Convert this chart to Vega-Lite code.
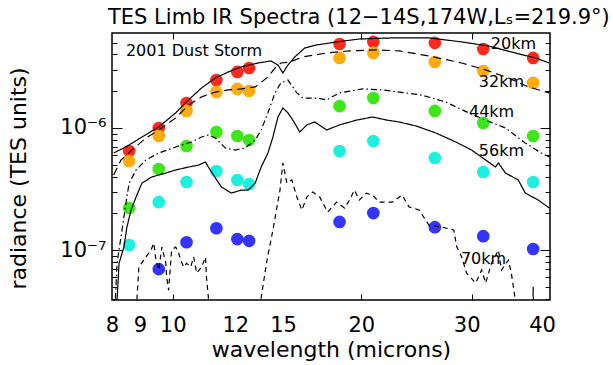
{
  "$schema": "https://vega.github.io/schema/vega-lite/v6.json",
  "width": 438,
  "height": 267,
  "autosize": {"type": "none"},
  "padding": {"left": 112, "top": 33, "right": 63, "bottom": 65},
  "background": "white",
  "config": {
    "view": {"stroke": "black", "strokeWidth": 1.5},
    "font": "DejaVu Sans",
    "axis": {"grid": false, "domain": false, "labelColor": "black", "titleColor": "black", "tickColor": "black", "labelFont": "DejaVu Sans", "titleFont": "DejaVu Sans", "titleFontWeight": "normal", "labelFlush": false, "labelOverlap": false}
  },
  "title": {
    "text": "TES Limb IR Spectra (12−14S,174W,Lₛ=219.9°)",
    "anchor": "start",
    "frame": "group",
    "dx": -4,
    "dy": 21,
    "offset": 8,
    "baseline": "alphabetic",
    "fontSize": 21,
    "fontWeight": "normal",
    "font": "DejaVu Sans",
    "color": "black"
  },
  "datasets": {
    "dots": [
      {"a": "20km", "x": 8.52, "y": 6.48e-7}, {"a": "20km", "x": 9.50, "y": 1.0e-6}, {"a": "20km", "x": 10.52, "y": 1.60e-6}, {"a": "20km", "x": 11.74, "y": 2.47e-6}, {"a": "20km", "x": 12.68, "y": 2.88e-6}, {"a": "20km", "x": 13.24, "y": 3.10e-6}, {"a": "20km", "x": 18.46, "y": 4.88e-6}, {"a": "20km", "x": 20.90, "y": 5.07e-6}, {"a": "20km", "x": 26.2, "y": 4.98e-6}, {"a": "20km", "x": 31.3, "y": 4.44e-6}, {"a": "20km", "x": 37.6, "y": 3.75e-6},
      {"a": "32km", "x": 8.52, "y": 5.37e-7}, {"a": "32km", "x": 9.50, "y": 8.60e-7}, {"a": "32km", "x": 10.52, "y": 1.38e-6}, {"a": "32km", "x": 11.74, "y": 1.97e-6}, {"a": "32km", "x": 12.68, "y": 2.09e-6}, {"a": "32km", "x": 13.24, "y": 2.01e-6}, {"a": "32km", "x": 18.46, "y": 3.75e-6}, {"a": "32km", "x": 20.90, "y": 4.12e-6}, {"a": "32km", "x": 26.2, "y": 3.47e-6}, {"a": "32km", "x": 31.3, "y": 2.93e-6}, {"a": "32km", "x": 37.6, "y": 2.34e-6},
      {"a": "44km", "x": 8.52, "y": 2.21e-7}, {"a": "44km", "x": 9.50, "y": 4.61e-7}, {"a": "44km", "x": 10.52, "y": 7.12e-7}, {"a": "44km", "x": 11.74, "y": 9.27e-7}, {"a": "44km", "x": 12.68, "y": 8.60e-7}, {"a": "44km", "x": 13.24, "y": 7.97e-7}, {"a": "44km", "x": 18.46, "y": 1.51e-6}, {"a": "44km", "x": 20.90, "y": 1.76e-6}, {"a": "44km", "x": 26.2, "y": 1.38e-6}, {"a": "44km", "x": 31.3, "y": 1.10e-6}, {"a": "44km", "x": 37.6, "y": 8.60e-7},
      {"a": "56km", "x": 8.52, "y": 1.10e-7}, {"a": "56km", "x": 9.50, "y": 2.47e-7}, {"a": "56km", "x": 10.52, "y": 3.61e-7}, {"a": "56km", "x": 11.74, "y": 4.44e-7}, {"a": "56km", "x": 12.68, "y": 3.75e-7}, {"a": "56km", "x": 13.24, "y": 3.48e-7}, {"a": "56km", "x": 18.46, "y": 6.48e-7}, {"a": "56km", "x": 20.90, "y": 7.82e-7}, {"a": "56km", "x": 26.2, "y": 5.68e-7}, {"a": "56km", "x": 31.3, "y": 4.36e-7}, {"a": "56km", "x": 37.6, "y": 3.61e-7},
      {"a": "70km", "x": 9.50, "y": 6.98e-8}, {"a": "70km", "x": 10.52, "y": 1.16e-7}, {"a": "70km", "x": 11.74, "y": 1.51e-7}, {"a": "70km", "x": 12.68, "y": 1.23e-7}, {"a": "70km", "x": 13.24, "y": 1.19e-7}, {"a": "70km", "x": 18.46, "y": 1.70e-7}, {"a": "70km", "x": 20.90, "y": 2.01e-7}, {"a": "70km", "x": 26.2, "y": 1.54e-7}, {"a": "70km", "x": 31.3, "y": 1.30e-7}, {"a": "70km", "x": 37.6, "y": 1.02e-7}
    ],
    "lines": [
      {"a": "20km", "x": 8.05, "y": 6.25e-7}, {"a": "20km", "x": 8.42, "y": 7.0e-7}, {"a": "20km", "x": 8.93, "y": 8.43e-7}, {"a": "20km", "x": 9.50, "y": 1.02e-6}, {"a": "20km", "x": 10.11, "y": 1.33e-6}, {"a": "20km", "x": 10.60, "y": 1.70e-6}, {"a": "20km", "x": 11.12, "y": 2.13e-6}, {"a": "20km", "x": 11.70, "y": 2.57e-6}, {"a": "20km", "x": 12.27, "y": 2.88e-6}, {"a": "20km", "x": 12.86, "y": 3.16e-6}, {"a": "20km", "x": 13.69, "y": 3.41e-6}, {"a": "20km", "x": 14.35, "y": 3.54e-6}, {"a": "20km", "x": 14.72, "y": 3.28e-6}, {"a": "20km", "x": 14.99, "y": 2.82e-6}, {"a": "20km", "x": 15.27, "y": 3.28e-6}, {"a": "20km", "x": 15.66, "y": 3.82e-6}, {"a": "20km", "x": 16.25, "y": 4.53e-6}, {"a": "20km", "x": 16.98, "y": 4.79e-6}, {"a": "20km", "x": 18.26, "y": 5.07e-6}, {"a": "20km", "x": 19.86, "y": 5.36e-6}, {"a": "20km", "x": 22.4, "y": 5.47e-6}, {"a": "20km", "x": 25.64, "y": 5.47e-6}, {"a": "20km", "x": 28.92, "y": 5.07e-6}, {"a": "20km", "x": 31.91, "y": 4.70e-6}, {"a": "20km", "x": 35.22, "y": 4.12e-6}, {"a": "20km", "x": 37.87, "y": 3.75e-6}, {"a": "20km", "x": 39.9, "y": 3.41e-6},
      {"a": "32km", "x": 8.05, "y": 4.12e-7}, {"a": "32km", "x": 8.27, "y": 5.47e-7}, {"a": "32km", "x": 8.61, "y": 6.60e-7}, {"a": "32km", "x": 9.06, "y": 8.28e-7}, {"a": "32km", "x": 9.50, "y": 9.63e-7}, {"a": "32km", "x": 10.11, "y": 1.21e-6}, {"a": "32km", "x": 10.60, "y": 1.54e-6}, {"a": "32km", "x": 11.12, "y": 1.80e-6}, {"a": "32km", "x": 11.70, "y": 1.97e-6}, {"a": "32km", "x": 12.27, "y": 2.05e-6}, {"a": "32km", "x": 12.86, "y": 2.09e-6}, {"a": "32km", "x": 13.54, "y": 2.17e-6}, {"a": "32km", "x": 14.19, "y": 2.62e-6}, {"a": "32km", "x": 14.56, "y": 3.10e-6}, {"a": "32km", "x": 14.88, "y": 3.41e-6}, {"a": "32km", "x": 15.38, "y": 3.47e-6}, {"a": "32km", "x": 16.13, "y": 3.82e-6}, {"a": "32km", "x": 17.61, "y": 4.12e-6}, {"a": "32km", "x": 19.15, "y": 4.28e-6}, {"a": "32km", "x": 21.13, "y": 4.36e-6}, {"a": "32km", "x": 22.98, "y": 4.28e-6}, {"a": "32km", "x": 25.64, "y": 3.89e-6}, {"a": "32km", "x": 28.92, "y": 3.41e-6}, {"a": "32km", "x": 31.57, "y": 2.99e-6}, {"a": "32km", "x": 34.33, "y": 2.57e-6}, {"a": "32km", "x": 36.93, "y": 2.17e-6}, {"a": "32km", "x": 39.9, "y": 1.94e-6},
      {"a": "44km", "x": 8.10, "y": 4.0e-8}, {"a": "44km", "x": 8.15, "y": 7.82e-8}, {"a": "44km", "x": 8.30, "y": 1.46e-7}, {"a": "44km", "x": 8.45, "y": 2.72e-7}, {"a": "44km", "x": 8.52, "y": 3.54e-7}, {"a": "44km", "x": 8.74, "y": 4.53e-7}, {"a": "44km", "x": 9.06, "y": 5.47e-7}, {"a": "44km", "x": 9.50, "y": 6.24e-7}, {"a": "44km", "x": 10.11, "y": 6.99e-7}, {"a": "44km", "x": 10.72, "y": 7.68e-7}, {"a": "44km", "x": 11.12, "y": 8.44e-7}, {"a": "44km", "x": 11.40, "y": 8.76e-7}, {"a": "44km", "x": 11.70, "y": 8.28e-7}, {"a": "44km", "x": 12.13, "y": 6.86e-7}, {"a": "44km", "x": 12.58, "y": 6.60e-7}, {"a": "44km", "x": 13.05, "y": 6.86e-7}, {"a": "44km", "x": 13.54, "y": 7.97e-7}, {"a": "44km", "x": 13.84, "y": 9.63e-7}, {"a": "44km", "x": 14.19, "y": 1.33e-6}, {"a": "44km", "x": 14.56, "y": 1.94e-6}, {"a": "44km", "x": 14.88, "y": 2.34e-6}, {"a": "44km", "x": 15.27, "y": 2.47e-6}, {"a": "44km", "x": 15.78, "y": 1.94e-6}, {"a": "44km", "x": 16.13, "y": 1.76e-6}, {"a": "44km", "x": 16.98, "y": 1.76e-6}, {"a": "44km", "x": 17.61, "y": 1.70e-6}, {"a": "44km", "x": 18.46, "y": 1.94e-6}, {"a": "44km", "x": 20.07, "y": 2.09e-6}, {"a": "44km", "x": 21.60, "y": 2.05e-6}, {"a": "44km", "x": 22.98, "y": 1.97e-6}, {"a": "44km", "x": 24.99, "y": 1.86e-6}, {"a": "44km", "x": 27.28, "y": 1.63e-6}, {"a": "44km", "x": 29.67, "y": 1.33e-6}, {"a": "44km", "x": 31.57, "y": 1.16e-6}, {"a": "44km", "x": 33.96, "y": 1.00e-6}, {"a": "44km", "x": 36.53, "y": 7.54e-7}, {"a": "44km", "x": 38.73, "y": 6.24e-7}, {"a": "44km", "x": 39.9, "y": 5.78e-7},
      {"a": "56km", "x": 8.12, "y": 2.0e-8}, {"a": "56km", "x": 8.15, "y": 3.89e-8}, {"a": "56km", "x": 8.21, "y": 7.82e-8}, {"a": "56km", "x": 8.36, "y": 1.06e-7}, {"a": "56km", "x": 8.45, "y": 1.54e-7}, {"a": "56km", "x": 8.58, "y": 2.13e-7}, {"a": "56km", "x": 8.74, "y": 2.72e-7}, {"a": "56km", "x": 8.93, "y": 3.54e-7}, {"a": "56km", "x": 9.26, "y": 3.97e-7}, {"a": "56km", "x": 9.75, "y": 4.28e-7}, {"a": "56km", "x": 10.11, "y": 4.53e-7}, {"a": "56km", "x": 10.60, "y": 4.79e-7}, {"a": "56km", "x": 11.0, "y": 4.97e-7}, {"a": "56km", "x": 11.28, "y": 5.26e-7}, {"a": "56km", "x": 11.40, "y": 4.79e-7}, {"a": "56km", "x": 11.70, "y": 3.89e-7}, {"a": "56km", "x": 11.96, "y": 3.29e-7}, {"a": "56km", "x": 12.40, "y": 2.93e-7}, {"a": "56km", "x": 12.86, "y": 3.10e-7}, {"a": "56km", "x": 13.19, "y": 3.10e-7}, {"a": "56km", "x": 13.54, "y": 3.54e-7}, {"a": "56km", "x": 13.84, "y": 4.79e-7}, {"a": "56km", "x": 14.19, "y": 6.24e-7}, {"a": "56km", "x": 14.45, "y": 8.44e-7}, {"a": "56km", "x": 14.72, "y": 1.23e-6}, {"a": "56km", "x": 14.99, "y": 1.46e-6}, {"a": "56km", "x": 15.27, "y": 1.33e-6}, {"a": "56km", "x": 15.55, "y": 1.16e-6}, {"a": "56km", "x": 15.95, "y": 9.27e-7}, {"a": "56km", "x": 16.37, "y": 1.06e-6}, {"a": "56km", "x": 16.85, "y": 1.12e-6}, {"a": "56km", "x": 17.61, "y": 9.63e-7}, {"a": "56km", "x": 18.46, "y": 1.06e-6}, {"a": "56km", "x": 19.64, "y": 1.16e-6}, {"a": "56km", "x": 20.83, "y": 1.23e-6}, {"a": "56km", "x": 21.99, "y": 1.16e-6}, {"a": "56km", "x": 22.98, "y": 1.12e-6}, {"a": "56km", "x": 24.45, "y": 1.04e-6}, {"a": "56km", "x": 26.30, "y": 9.10e-7}, {"a": "56km", "x": 28.29, "y": 7.68e-7}, {"a": "56km", "x": 29.99, "y": 6.60e-7}, {"a": "56km", "x": 31.57, "y": 5.47e-7}, {"a": "56km", "x": 32.73, "y": 4.79e-7}, {"a": "56km", "x": 33.10, "y": 5.17e-7}, {"a": "56km", "x": 33.96, "y": 4.28e-7}, {"a": "56km", "x": 35.60, "y": 3.75e-7}, {"a": "56km", "x": 36.53, "y": 2.93e-7}, {"a": "56km", "x": 38.30, "y": 2.57e-7}, {"a": "56km", "x": 39.9, "y": 2.21e-7},
      {"a": "70km", "x": 8.70, "y": 2.0e-8}, {"a": "70km", "x": 8.77, "y": 4.08e-8}, {"a": "70km", "x": 8.83, "y": 7.26e-8}, {"a": "70km", "x": 9.06, "y": 8.77e-8}, {"a": "70km", "x": 9.23, "y": 1.00e-7}, {"a": "70km", "x": 9.33, "y": 1.14e-7}, {"a": "70km", "x": 9.40, "y": 8.28e-8}, {"a": "70km", "x": 9.50, "y": 6.86e-8}, {"a": "70km", "x": 9.61, "y": 1.06e-7}, {"a": "70km", "x": 9.75, "y": 7.82e-8}, {"a": "70km", "x": 9.78, "y": 6.01e-8}, {"a": "70km", "x": 9.85, "y": 4.70e-8}, {"a": "70km", "x": 9.96, "y": 1.00e-7}, {"a": "70km", "x": 10.11, "y": 1.06e-7}, {"a": "70km", "x": 10.22, "y": 9.45e-8}, {"a": "70km", "x": 10.30, "y": 8.28e-8}, {"a": "70km", "x": 10.41, "y": 7.26e-8}, {"a": "70km", "x": 10.52, "y": 7.82e-8}, {"a": "70km", "x": 10.68, "y": 7.26e-8}, {"a": "70km", "x": 10.80, "y": 8.77e-8}, {"a": "70km", "x": 10.92, "y": 6.48e-8}, {"a": "70km", "x": 11.12, "y": 7.26e-8}, {"a": "70km", "x": 11.28, "y": 8.77e-8}, {"a": "70km", "x": 11.32, "y": 6.01e-8}, {"a": "70km", "x": 11.40, "y": 4.08e-8}, {"a": "70km", "x": 11.5, "y": 2.0e-8}, {"a": "70km", "x": 13.7, "y": 2.0e-8}, {"a": "70km", "x": 13.84, "y": 4.08e-8}, {"a": "70km", "x": 14.14, "y": 8.28e-8}, {"a": "70km", "x": 14.45, "y": 1.46e-7}, {"a": "70km", "x": 14.83, "y": 3.10e-7}, {"a": "70km", "x": 14.99, "y": 5.17e-7}, {"a": "70km", "x": 15.21, "y": 3.54e-7}, {"a": "70km", "x": 15.49, "y": 3.75e-7}, {"a": "70km", "x": 15.78, "y": 2.72e-7}, {"a": "70km", "x": 16.07, "y": 2.13e-7}, {"a": "70km", "x": 16.37, "y": 2.72e-7}, {"a": "70km", "x": 16.73, "y": 2.99e-7}, {"a": "70km", "x": 17.16, "y": 2.72e-7}, {"a": "70km", "x": 17.67, "y": 2.05e-7}, {"a": "70km", "x": 18.26, "y": 2.47e-7}, {"a": "70km", "x": 18.80, "y": 2.21e-7}, {"a": "70km", "x": 19.15, "y": 2.57e-7}, {"a": "70km", "x": 19.50, "y": 3.10e-7}, {"a": "70km", "x": 19.86, "y": 2.57e-7}, {"a": "70km", "x": 20.37, "y": 2.93e-7}, {"a": "70km", "x": 20.83, "y": 2.82e-7}, {"a": "70km", "x": 21.36, "y": 2.47e-7}, {"a": "70km", "x": 21.91, "y": 2.47e-7}, {"a": "70km", "x": 22.40, "y": 2.47e-7}, {"a": "70km", "x": 23.23, "y": 2.82e-7}, {"a": "70km", "x": 23.84, "y": 2.25e-7}, {"a": "70km", "x": 24.72, "y": 2.13e-7}, {"a": "70km", "x": 25.64, "y": 1.60e-7}, {"a": "70km", "x": 26.89, "y": 1.54e-7}, {"a": "70km", "x": 28.09, "y": 1.46e-7}, {"a": "70km", "x": 28.40, "y": 1.06e-7}, {"a": "70km", "x": 28.92, "y": 8.77e-8}, {"a": "70km", "x": 29.44, "y": 6.48e-8}, {"a": "70km", "x": 30.44, "y": 5.37e-8}, {"a": "70km", "x": 31.12, "y": 6.86e-8}, {"a": "70km", "x": 31.57, "y": 5.37e-8}, {"a": "70km", "x": 32.27, "y": 7.82e-8}, {"a": "70km", "x": 33.10, "y": 1.00e-7}, {"a": "70km", "x": 33.46, "y": 6.86e-8}, {"a": "70km", "x": 34.33, "y": 8.28e-8}, {"a": "70km", "x": 34.70, "y": 6.48e-8}, {"a": "70km", "x": 35.22, "y": 3.89e-8}, {"a": "70km", "x": 35.4, "y": 2.0e-8}, {"a": "70km", "x": 37.5, "y": 2.0e-8}, {"a": "70km", "x": 37.6, "y": 5.0e-8}, {"a": "70km", "x": 37.7, "y": 2.0e-8}
    ],
    "labels": [
      {"t": "20km", "x": 34.97, "y": 4.88e-6},
      {"t": "32km", "x": 33.46, "y": 2.38e-6},
      {"t": "44km", "x": 32.27, "y": 1.35e-6},
      {"t": "56km", "x": 33.46, "y": 6.48e-7},
      {"t": "70km", "x": 31.33, "y": 8.44e-8}
    ],
    "note": [
      {"t": "2001 Dust Storm", "x": 8.42, "y": 4.28e-6}
    ]
  },
  "layer": [
    {
      "data": {"name": "dots"},
      "mark": {"type": "circle", "size": 160, "opacity": 1},
      "encoding": {
        "x": {"field": "x", "type": "quantitative", "scale": {"type": "log", "domain": [8, 40], "nice": false},
          "axis": {"orient": "bottom", "values": [8, 9, 10, 12, 15, 20, 30, 40], "title": "wavelength (microns)", "labelFontSize": 21, "titleFontSize": 22, "tickSize": -6,
            "tickOpacity": {"condition": {"test": "datum.value == 10 || datum.value == 20 || datum.value == 30", "value": 1}, "value": 0},
            "labelOffset": {"condition": [{"test": "datum.value == 12", "value": 13}, {"test": "datum.value == 30", "value": -5}, {"test": "datum.value == 40", "value": -8}, {"test": "datum.value == 9", "value": -4}], "value": 0},
            "labelPadding": 20, "titlePadding": 4}},
        "y": {"field": "y", "type": "quantitative", "scale": {"type": "log", "domain": [3.9e-8, 6.0e-6], "nice": false},
          "axis": {"orient": "left", "values": [4e-8, 5e-8, 6e-8, 7e-8, 8e-8, 9e-8, 1e-7, 2e-7, 3e-7, 4e-7, 5e-7, 6e-7, 7e-7, 8e-7, 9e-7, 1e-6, 2e-6, 3e-6, 4e-6, 5e-6],
            "labelExpr": "datum.value == 1e-6 ? '10⁻⁶' : (datum.value == 1e-7 ? '10⁻⁷' : '')",
            "tickSize": {"condition": {"test": "datum.value == 1e-6 || datum.value == 1e-7", "value": -10}, "value": -5},
            "title": "radiance (TES units)", "labelFontSize": 21, "titleFontSize": 22, "labelPadding": 16, "titlePadding": 29, "titleY": 145}},
        "color": {"field": "a", "type": "nominal", "scale": {"domain": ["20km", "32km", "44km", "56km", "70km"], "range": ["#ff2a1c", "#ffab0c", "#3ee61a", "#1ef0e0", "#3434ff"]}, "legend": null}
      }
    },
    {
      "data": {"name": "lines"},
      "mark": {"type": "line", "color": "black", "strokeWidth": 1.2, "clip": true},
      "encoding": {
        "x": {"field": "x", "type": "quantitative", "scale": {"type": "log", "domain": [8, 40], "nice": false},
          "axis": {"orient": "top", "values": [10, 20, 30], "labels": false, "title": null, "tickSize": -6}},
        "y": {"field": "y", "type": "quantitative", "scale": {"type": "log", "domain": [3.9e-8, 6.0e-6], "nice": false},
          "axis": {"orient": "right", "values": [4e-8, 5e-8, 6e-8, 7e-8, 8e-8, 9e-8, 1e-7, 2e-7, 3e-7, 4e-7, 5e-7, 6e-7, 7e-7, 8e-7, 9e-7, 1e-6, 2e-6, 3e-6, 4e-6, 5e-6], "labels": false, "title": null,
            "tickSize": {"condition": {"test": "datum.value == 1e-6 || datum.value == 1e-7", "value": -10}, "value": -5}}},
        "detail": {"field": "a"},
        "strokeDash": {"field": "a", "type": "nominal", "scale": {"domain": ["20km", "32km", "44km", "56km", "70km"], "range": [[1, 0], [8, 5], [6, 3, 1.5, 3], [1, 0], [5, 4]]}, "legend": null}
      }
    },
    {
      "data": {"name": "labels"},
      "mark": {"type": "text", "fontSize": 16, "font": "DejaVu Sans", "align": "center", "baseline": "middle", "color": "black"},
      "encoding": {
        "x": {"field": "x", "type": "quantitative", "scale": {"type": "log", "domain": [8, 40], "nice": false}, "axis": null},
        "y": {"field": "y", "type": "quantitative", "scale": {"type": "log", "domain": [3.9e-8, 6.0e-6], "nice": false}, "axis": null},
        "text": {"field": "t"}
      }
    },
    {
      "data": {"name": "note"},
      "mark": {"type": "text", "fontSize": 16, "font": "DejaVu Sans", "align": "left", "baseline": "middle", "color": "black"},
      "encoding": {
        "x": {"field": "x", "type": "quantitative", "scale": {"type": "log", "domain": [8, 40], "nice": false}, "axis": null},
        "y": {"field": "y", "type": "quantitative", "scale": {"type": "log", "domain": [3.9e-8, 6.0e-6], "nice": false}, "axis": null},
        "text": {"field": "t"}
      }
    }
  ],
  "resolve": {"axis": {"x": "independent", "y": "independent"}}
}
